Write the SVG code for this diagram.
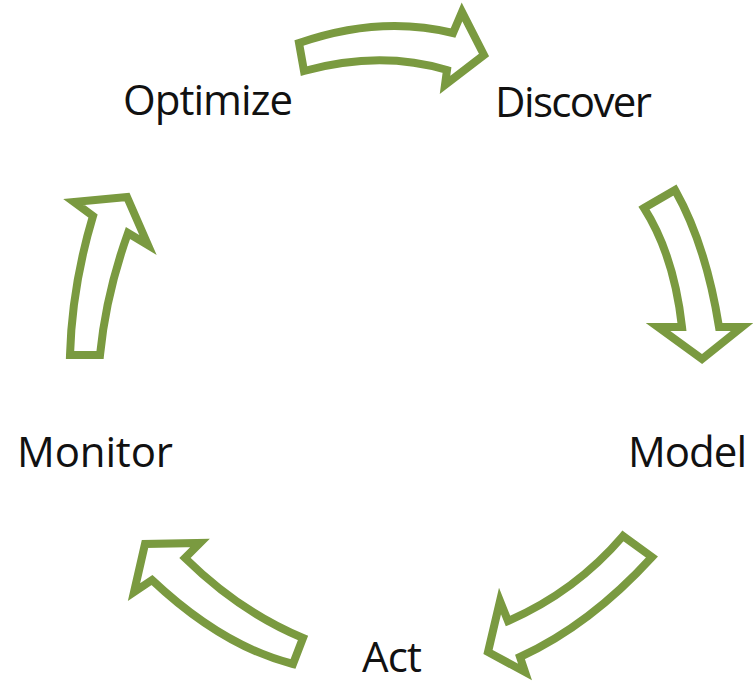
<svg xmlns="http://www.w3.org/2000/svg" width="753" height="686" viewBox="0 0 753 686">
  <style>
    .arrow { fill: #ffffff; stroke: #7a9a40; stroke-width: 8; stroke-linejoin: miter; stroke-miterlimit: 6; }
    .label { font-family: "Open Sans", "Liberation Sans", sans-serif; font-size: 42px; fill: #111111; }
  </style>
  <rect width="753" height="686" fill="#ffffff"/>

  <!-- curved block arrows forming the cycle -->
  <g id="connectors">
    <path id="arrow-optimize-discover" class="arrow"
          d="M 299,43 Q 380,15 453,33 L 462,12 L 484,55 L 445,85 L 447,70 Q 380,50 304,71 Z"/>
    <path id="arrow-discover-model" class="arrow"
          d="M 644,208 L 675,190 Q 706,245 719,327 L 742,327 L 702,359 L 658,327 L 682,327 Q 674,255 644,208 Z"/>
    <path id="arrow-model-act" class="arrow"
          d="M 623,536 L 652,557 Q 590,625 520,657 L 525,672 L 488,652 L 500,601 L 508,621 Q 575,592 623,536 Z"/>
    <path id="arrow-act-monitor" class="arrow"
          d="M 303,638 Q 240,612 185,558 L 200,543 L 145,544 L 134,592 L 152,580 Q 222,646 293,664 Z"/>
    <path id="arrow-monitor-optimize" class="arrow"
          d="M 70,355 Q 72,286 93,216 L 74,202 L 127,197 L 148,245 L 128,233 Q 106,294 100,355 Z"/>
  </g>

  <g id="node-optimize">
    <text class="label" x="123" y="115" textLength="170">Optimize</text>
  </g>
  <g id="node-discover">
    <text class="label" x="495" y="117" textLength="157">Discover</text>
  </g>
  <g id="node-model">
    <text class="label" x="628" y="467" textLength="119">Model</text>
  </g>
  <g id="node-act">
    <text class="label" x="362" y="672" textLength="60">Act</text>
  </g>
  <g id="node-monitor">
    <text class="label" x="17" y="467" textLength="156">Monitor</text>
  </g>
</svg>
